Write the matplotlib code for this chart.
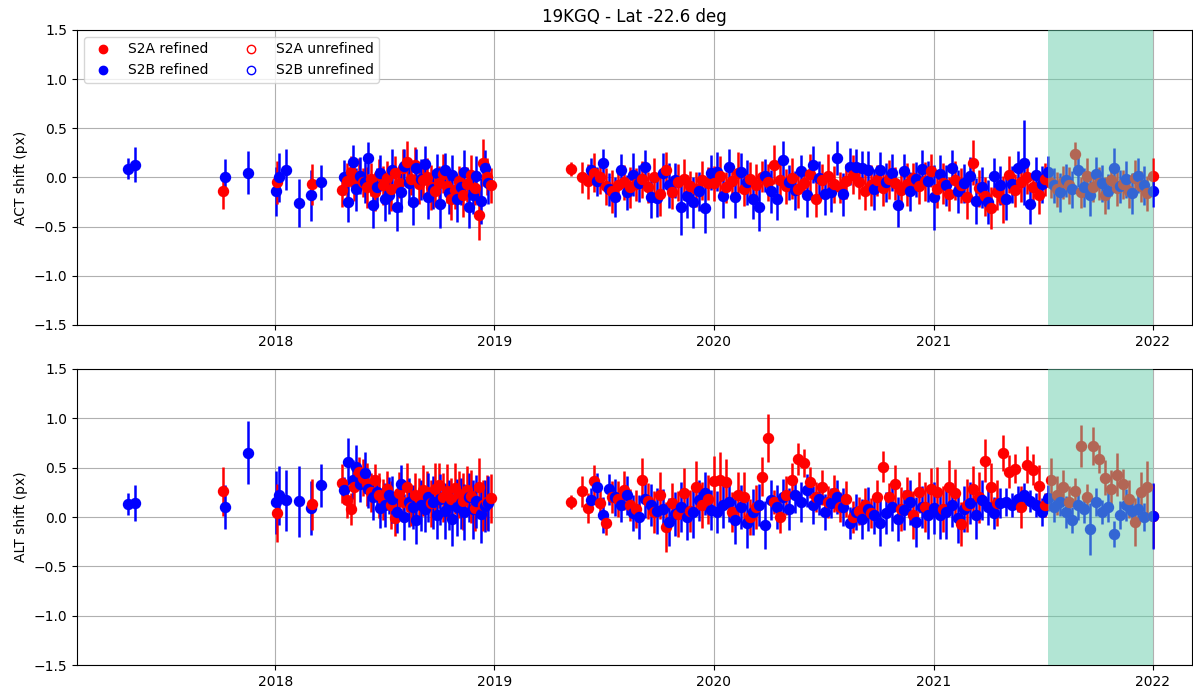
import numpy as np
import matplotlib
matplotlib.use("Agg")
import matplotlib.pyplot as plt
import matplotlib.dates as mdates
from matplotlib.lines import Line2D

# ---------------- data ----------------
s2a_dates = [
    "2017-10-06", "2018-01-04", "2018-03-03",
    "2018-04-23", "2018-04-30", "2018-05-07", "2018-05-13", "2018-05-20", "2018-05-27",
    "2018-06-02", "2018-06-09", "2018-06-16", "2018-06-22", "2018-06-29", "2018-07-06",
    "2018-07-12", "2018-07-19", "2018-07-26", "2018-08-01", "2018-08-08", "2018-08-15",
    "2018-08-21", "2018-08-28", "2018-09-04", "2018-09-10", "2018-09-17", "2018-09-24",
    "2018-09-30", "2018-10-07", "2018-10-14", "2018-10-20", "2018-10-27", "2018-11-03",
    "2018-11-09", "2018-11-16", "2018-11-23", "2018-11-29", "2018-12-06", "2018-12-13",
    "2018-12-19", "2018-12-26",
    "2019-05-08",
    "2019-05-27", "2019-06-06", "2019-06-16", "2019-06-26", "2019-07-06", "2019-07-16",
    "2019-07-26", "2019-08-05", "2019-08-15", "2019-08-25", "2019-09-04", "2019-09-14",
    "2019-09-24", "2019-10-04", "2019-10-14", "2019-10-24", "2019-11-03", "2019-11-13",
    "2019-11-23", "2019-12-03", "2019-12-13", "2019-12-23",
    "2020-01-02", "2020-01-12", "2020-01-22", "2020-02-01", "2020-02-11", "2020-02-21",
    "2020-03-02", "2020-03-12", "2020-03-22", "2020-04-01", "2020-04-11", "2020-04-21",
    "2020-05-01", "2020-05-11", "2020-05-21", "2020-05-31", "2020-06-10", "2020-06-20",
    "2020-06-30", "2020-07-10", "2020-07-20", "2020-07-30", "2020-08-09", "2020-08-19",
    "2020-08-29", "2020-09-08", "2020-09-18", "2020-09-28", "2020-10-08", "2020-10-18",
    "2020-10-28", "2020-11-07", "2020-11-17", "2020-11-27", "2020-12-07", "2020-12-17",
    "2020-12-27",
    "2021-01-06", "2021-01-16", "2021-01-26", "2021-02-05", "2021-02-15", "2021-02-25",
    "2021-03-07", "2021-03-17", "2021-03-27", "2021-04-06", "2021-04-16", "2021-04-26",
    "2021-05-06", "2021-05-16", "2021-05-26", "2021-06-05", "2021-06-15", "2021-06-25",
    "2021-07-05", "2021-07-15", "2021-07-25", "2021-08-04", "2021-08-14", "2021-08-24",
    "2021-09-03", "2021-09-13", "2021-09-23", "2021-10-03", "2021-10-13", "2021-10-23",
    "2021-11-02", "2021-11-12", "2021-11-22", "2021-12-02", "2021-12-12", "2021-12-22",
    "2022-01-01",
]
s2a_act = [
    -0.14, -0.05, -0.07,
    -0.13, -0.04, 0.06, -0.04, 0.02, -0.05, -0.10, -0.02, -0.15, 0.03,
    -0.08, -0.01, -0.12, 0.05, -0.06, 0.10, 0.16, -0.02, 0.13, -0.07,
    -0.03, 0.01, -0.10, -0.14, -0.06, 0.04, -0.09, -0.22, -0.13, -0.04,
    -0.18, -0.07, 0.03, -0.11, -0.38, 0.15, 0.01, -0.08,
    0.09,
    0.00, -0.04, 0.05, 0.00, -0.09, -0.14, -0.08, -0.05, -0.10, -0.07,
    -0.02, -0.10, 0.00, -0.17, 0.08, -0.15, -0.05, -0.02, -0.09, -0.12,
    -0.03, -0.06,
    -0.06, 0.02, -0.10, -0.04, 0.05, -0.12, -0.02, -0.08, 0.01, -0.05,
    0.13, -0.03, -0.09, -0.01, -0.12, -0.06, 0.04, -0.22, -0.03, 0.02,
    -0.07, -0.10, -0.04, 0.03, -0.05, -0.14, -0.08, -0.03, -0.11, -0.02,
    -0.06, -0.13, -0.07, -0.01, -0.09, -0.04, 0.07,
    -0.12, -0.06, -0.17, -0.03, -0.08, -0.20, 0.15, -0.11, -0.19, -0.31,
    -0.15, -0.22, 0.03, -0.13, -0.05, 0.01, -0.10, -0.18, -0.02, -0.06,
    -0.12, -0.05, -0.08, 0.24, -0.15, 0.02, -0.10, -0.06, -0.18, -0.03,
    -0.11, -0.07, -0.14, -0.01, -0.09, -0.16,
    0.02,
]
s2a_act_err = [
    0.18, 0.22, 0.21,
    0.17, 0.19, 0.16, 0.20, 0.18, 0.15, 0.21, 0.17, 0.19, 0.16,
    0.20, 0.18, 0.22, 0.17, 0.15, 0.19, 0.21, 0.16, 0.18, 0.20,
    0.17, 0.19, 0.23, 0.16, 0.18, 0.20, 0.17, 0.21, 0.19, 0.16,
    0.22, 0.18, 0.20, 0.17, 0.26, 0.24, 0.19, 0.18,
    0.07,
    0.16, 0.18, 0.20, 0.17, 0.19, 0.22, 0.16, 0.18, 0.21, 0.17,
    0.19, 0.16, 0.20, 0.22, 0.18, 0.17, 0.19, 0.21, 0.16, 0.18,
    0.20, 0.17,
    0.18, 0.20, 0.16, 0.19, 0.21, 0.17, 0.18, 0.22, 0.16, 0.19,
    0.20, 0.17, 0.18, 0.21, 0.19, 0.16, 0.20, 0.18, 0.17, 0.22,
    0.19, 0.16, 0.18, 0.20, 0.17, 0.19, 0.21, 0.16, 0.18, 0.20,
    0.17, 0.19, 0.22, 0.16, 0.18, 0.20, 0.17,
    0.19, 0.21, 0.17, 0.20, 0.18, 0.22, 0.23, 0.19, 0.20, 0.21,
    0.18, 0.24, 0.19, 0.17, 0.20, 0.18, 0.16, 0.19, 0.17, 0.15,
    0.18, 0.17, 0.19, 0.12, 0.16, 0.18, 0.15, 0.17, 0.19, 0.16,
    0.18, 0.15, 0.17, 0.19, 0.16, 0.18,
    0.18,
]
s2a_alt = [
    0.26, 0.04, 0.13,
    0.34, 0.17, 0.08, 0.30, 0.46, 0.40, 0.33, 0.25, 0.37, 0.22,
    0.18, 0.28, 0.12, -0.01, 0.24, 0.15, 0.30, 0.10, 0.22, 0.19,
    0.27, 0.25, 0.14, 0.28, 0.32, 0.20, 0.26, 0.18, 0.29, 0.23,
    0.16, 0.27, 0.21, 0.09, 0.30, 0.12, 0.15, 0.19,
    0.15,
    0.26, 0.09, 0.36, 0.14, -0.06, 0.20, 0.18, 0.27, 0.12, 0.08,
    0.38, 0.16, 0.05, 0.22, -0.10, 0.14, 0.03, 0.24, 0.06, 0.30,
    0.12, 0.18,
    0.36, 0.38, 0.35, 0.05, 0.22, 0.20, 0.00, 0.10, 0.41, 0.80,
    0.15, 0.00, 0.22, 0.37, 0.59, 0.55, 0.35, 0.20, 0.30, 0.15,
    0.24, 0.10, 0.18, 0.00, 0.06, 0.12, 0.04, 0.20, 0.51, 0.20,
    0.33, 0.08, 0.22, 0.02, 0.25, 0.10, 0.28,
    0.25, 0.08, 0.30, 0.24, -0.07, 0.12, 0.28, 0.20, 0.57, 0.30,
    0.14, 0.65, 0.46, 0.49, 0.10, 0.53, 0.48, 0.31, 0.12, 0.38,
    0.22, 0.30, 0.15, 0.26, 0.72, 0.20, 0.72, 0.59, 0.40, 0.28,
    0.43, 0.33, 0.18, -0.05, 0.25, 0.30,
    0.01,
]
s2a_alt_err = [
    0.25, 0.29, 0.26,
    0.20, 0.18, 0.16, 0.21, 0.15, 0.19, 0.22, 0.20, 0.17, 0.23,
    0.21, 0.19, 0.24, 0.18, 0.22, 0.20, 0.25, 0.19, 0.23, 0.21,
    0.26, 0.22, 0.24, 0.27, 0.23, 0.25, 0.28, 0.22, 0.26, 0.24,
    0.29, 0.25, 0.27, 0.23, 0.30, 0.26, 0.28, 0.25,
    0.07,
    0.16, 0.15, 0.17, 0.14, 0.12, 0.16, 0.18, 0.20, 0.16, 0.19,
    0.22, 0.18, 0.21, 0.24, 0.25, 0.20, 0.23, 0.26, 0.21, 0.27,
    0.23, 0.25,
    0.26, 0.28, 0.24, 0.20, 0.24, 0.26, 0.18, 0.22, 0.20, 0.24,
    0.12, 0.16, 0.20, 0.18, 0.16, 0.14, 0.16, 0.15, 0.18, 0.16,
    0.19, 0.15, 0.18, 0.16, 0.14, 0.17, 0.15, 0.18, 0.16, 0.14,
    0.20, 0.22, 0.19, 0.24, 0.21, 0.25, 0.22,
    0.26, 0.23, 0.28, 0.25, 0.22, 0.27, 0.24, 0.26, 0.22, 0.25,
    0.23, 0.18, 0.17, 0.15, 0.21, 0.19, 0.16, 0.22, 0.12, 0.22,
    0.20, 0.18, 0.16, 0.14, 0.21, 0.13, 0.19, 0.14, 0.18, 0.20,
    0.22, 0.16, 0.19, 0.24, 0.21, 0.27,
    0.32,
]

s2b_dates = [
    "2017-05-01", "2017-05-13", "2017-10-10", "2017-11-17", "2018-01-02",
    "2018-01-07", "2018-01-19", "2018-02-09", "2018-03-01", "2018-03-18",
    "2018-04-26", "2018-05-03", "2018-05-10", "2018-05-16", "2018-05-23", "2018-05-30",
    "2018-06-05", "2018-06-12", "2018-06-19", "2018-06-25", "2018-07-02", "2018-07-09",
    "2018-07-15", "2018-07-22", "2018-07-29", "2018-08-04", "2018-08-11", "2018-08-18",
    "2018-08-24", "2018-08-31", "2018-09-07", "2018-09-13", "2018-09-20", "2018-09-27",
    "2018-10-03", "2018-10-10", "2018-10-17", "2018-10-23", "2018-10-30", "2018-11-06",
    "2018-11-12", "2018-11-19", "2018-11-26", "2018-12-02", "2018-12-09", "2018-12-16",
    "2018-12-22",
    "2019-06-11", "2019-06-21", "2019-07-01", "2019-07-11", "2019-07-21", "2019-07-31",
    "2019-08-10", "2019-08-20", "2019-08-30", "2019-09-09", "2019-09-19", "2019-09-29",
    "2019-10-09", "2019-10-19", "2019-10-29", "2019-11-08", "2019-11-18", "2019-11-28",
    "2019-12-08", "2019-12-18", "2019-12-28",
    "2020-01-07", "2020-01-17", "2020-01-27", "2020-02-06", "2020-02-16", "2020-02-26",
    "2020-03-07", "2020-03-17", "2020-03-27", "2020-04-06", "2020-04-16", "2020-04-26",
    "2020-05-06", "2020-05-16", "2020-05-26", "2020-06-05", "2020-06-15", "2020-06-25",
    "2020-07-05", "2020-07-15", "2020-07-25", "2020-08-04", "2020-08-14", "2020-08-24",
    "2020-09-03", "2020-09-13", "2020-09-23", "2020-10-03", "2020-10-13", "2020-10-23",
    "2020-11-02", "2020-11-12", "2020-11-22", "2020-12-02", "2020-12-12", "2020-12-22",
    "2021-01-01", "2021-01-11", "2021-01-21", "2021-01-31", "2021-02-10", "2021-02-20",
    "2021-03-02", "2021-03-12", "2021-03-22", "2021-04-01", "2021-04-11", "2021-04-21",
    "2021-05-01", "2021-05-11", "2021-05-21", "2021-05-31", "2021-06-10", "2021-06-20",
    "2021-06-30", "2021-07-10", "2021-07-20", "2021-07-30", "2021-08-09", "2021-08-19",
    "2021-08-29", "2021-09-08", "2021-09-18", "2021-09-28", "2021-10-08", "2021-10-18",
    "2021-10-28", "2021-11-07", "2021-11-17", "2021-11-27", "2021-12-07", "2021-12-17",
    "2022-01-01",
]
s2b_act = [
    0.09, 0.13, 0.01, 0.05, -0.14, 0.00, 0.08, -0.26, -0.18, -0.05,
    0.00, -0.25, 0.16, -0.12, 0.02, -0.05, 0.20, -0.28, -0.10, 0.05,
    -0.22, -0.18, 0.08, -0.30, -0.15, 0.12, -0.06, -0.25, 0.10, -0.02,
    0.14, -0.20, -0.12, 0.05, -0.27, 0.08, -0.16, 0.03, -0.22, -0.10,
    0.06, -0.30, -0.18, 0.02, -0.24, 0.10, -0.06,
    0.08, -0.04, 0.15, -0.12, -0.20, 0.08, -0.15, 0.03, -0.06, 0.11,
    -0.20, -0.21, 0.05, -0.08, -0.03, -0.30, -0.19, -0.25, -0.14, -0.31,
    0.05,
    0.06, -0.19, 0.11, -0.20, 0.06, -0.05, -0.22, -0.30, 0.02, -0.14,
    -0.22, 0.18, -0.05, -0.13, 0.07, -0.18, 0.13, -0.01, -0.17, -0.15,
    0.20, -0.17, 0.11, 0.11, 0.10, 0.08, -0.12, 0.08, -0.05, 0.05,
    -0.28, 0.07, -0.14, -0.02, 0.09, -0.04,
    -0.20, 0.04, -0.08, 0.10, -0.14, -0.06, 0.02, -0.24, -0.10, -0.25,
    0.02, -0.08, -0.22, -0.07, 0.10, 0.15, -0.27, 0.03, -0.07, 0.06,
    -0.08, -0.15, -0.03, -0.12, 0.08, -0.10, -0.18, 0.04, -0.06, -0.14,
    0.10, -0.09, -0.02, -0.16, 0.02, -0.08,
    -0.14,
]
s2b_act_err = [
    0.11, 0.18, 0.18, 0.22, 0.25, 0.25, 0.21, 0.24, 0.26, 0.18,
    0.18, 0.20, 0.17, 0.22, 0.19, 0.21, 0.16, 0.23, 0.20, 0.18,
    0.22, 0.19, 0.21, 0.24, 0.20, 0.17, 0.22, 0.23, 0.19, 0.21,
    0.18, 0.22, 0.20, 0.19, 0.24, 0.17, 0.21, 0.20, 0.23, 0.18,
    0.22, 0.21, 0.19, 0.20, 0.23, 0.18, 0.21,
    0.12, 0.15, 0.14, 0.17, 0.20, 0.16, 0.18, 0.22, 0.19, 0.17,
    0.21, 0.19, 0.20, 0.23, 0.18, 0.29, 0.22, 0.26, 0.20, 0.25,
    0.18,
    0.20, 0.22, 0.18, 0.21, 0.19, 0.23, 0.20, 0.24, 0.17, 0.22,
    0.21, 0.19, 0.18, 0.20, 0.16, 0.22, 0.19, 0.18, 0.21, 0.20,
    0.17, 0.22, 0.19, 0.18, 0.17, 0.19, 0.21, 0.18, 0.20, 0.19,
    0.22, 0.17, 0.20, 0.18, 0.19, 0.21,
    0.33, 0.19, 0.21, 0.18, 0.22, 0.20, 0.19, 0.23, 0.21, 0.22,
    0.18, 0.20, 0.21, 0.19, 0.17, 0.43, 0.20, 0.18, 0.19, 0.16,
    0.18, 0.20, 0.17, 0.19, 0.18, 0.20, 0.21, 0.17, 0.19, 0.18,
    0.20, 0.17, 0.19, 0.21, 0.18, 0.20,
    0.16,
]
s2b_alt = [
    0.13, 0.14, 0.10, 0.65, 0.15, 0.22, 0.17, 0.16, 0.09, 0.32,
    0.27, 0.56, 0.38, 0.51, 0.33, 0.45, 0.28, 0.20, 0.25, 0.09,
    0.12, 0.22, 0.18, 0.05, 0.33, 0.00, 0.15, 0.10, -0.03, 0.12,
    0.08, 0.20, 0.15, 0.02, 0.18, 0.06, 0.12, -0.02, 0.10, 0.14,
    0.05, 0.20, 0.08, 0.16, 0.03, 0.11, 0.14,
    0.17, 0.30, 0.02, 0.28, 0.20, 0.12, 0.22, 0.04, 0.00, 0.18,
    0.12, 0.06, 0.08, -0.05, 0.03, 0.10, 0.00, 0.05, 0.17, 0.24,
    0.07,
    0.05, 0.12, 0.15, -0.03, 0.10, -0.06, 0.05, 0.12, -0.08, 0.17,
    0.10, 0.20, 0.08, 0.22, 0.15, 0.27, 0.12, 0.18, 0.05, 0.14,
    0.20, 0.10, -0.06, 0.05, -0.02, 0.08, 0.02, -0.06, 0.04, 0.10,
    -0.02, 0.07, 0.15, -0.05, 0.10, 0.02,
    0.09, 0.02, 0.05, 0.12, -0.01, 0.08, 0.14, 0.02, 0.17, 0.10,
    0.04, 0.14, 0.15, 0.12, 0.18, 0.22, 0.16, 0.12, 0.05, 0.19,
    0.10, 0.15, 0.05, -0.03, 0.12, 0.08, -0.12, 0.15, 0.05, 0.10,
    -0.17, 0.02, 0.12, 0.06, 0.08, 0.00,
    0.01,
]
s2b_alt_err = [
    0.11, 0.18, 0.22, 0.32, 0.32, 0.30, 0.31, 0.36, 0.27, 0.22,
    0.14, 0.24, 0.20, 0.22, 0.18, 0.21, 0.19, 0.23, 0.17, 0.20,
    0.22, 0.19, 0.24, 0.21, 0.20, 0.23, 0.25, 0.22, 0.24, 0.26,
    0.23, 0.25, 0.27, 0.24, 0.26, 0.28, 0.25, 0.27, 0.29, 0.26,
    0.28, 0.25, 0.30, 0.27, 0.29, 0.26, 0.28,
    0.12, 0.15, 0.18, 0.16, 0.19, 0.17, 0.20, 0.18, 0.22, 0.19,
    0.21, 0.23, 0.20, 0.24, 0.22, 0.25, 0.23, 0.26, 0.21, 0.22,
    0.20,
    0.21, 0.23, 0.20, 0.24, 0.22, 0.25, 0.23, 0.21, 0.24, 0.20,
    0.22, 0.19, 0.21, 0.18, 0.20, 0.17, 0.19, 0.16, 0.18, 0.15,
    0.17, 0.19, 0.16, 0.18, 0.20, 0.22, 0.19, 0.23, 0.21, 0.24,
    0.22, 0.20, 0.23, 0.25, 0.21, 0.24,
    0.26, 0.24, 0.27, 0.22, 0.25, 0.23, 0.21, 0.24, 0.20, 0.18,
    0.16, 0.15, 0.14, 0.12, 0.13, 0.12, 0.11, 0.12, 0.14, 0.13,
    0.15, 0.14, 0.16, 0.13, 0.15, 0.14, 0.26, 0.14, 0.12, 0.15,
    0.13, 0.14, 0.16, 0.12, 0.15, 0.14,
    0.33,
]

title = "19KGQ - Lat -22.6 deg"
span_start, span_end = "2021-07-10", "2022-01-01"
x_min, x_max = "2017-02-05", "2022-03-07"
yticks = [-1.5, -1.0, -0.5, 0.0, 0.5, 1.0, 1.5]

# ---------------- checks ----------------
for name, arr, ref in [("s2a_act", s2a_act, s2a_dates), ("s2a_act_err", s2a_act_err, s2a_dates),
                       ("s2a_alt", s2a_alt, s2a_dates), ("s2a_alt_err", s2a_alt_err, s2a_dates),
                       ("s2b_act", s2b_act, s2b_dates), ("s2b_act_err", s2b_act_err, s2b_dates),
                       ("s2b_alt", s2b_alt, s2b_dates), ("s2b_alt_err", s2b_alt_err, s2b_dates)]:
    if len(arr) != len(ref):
        raise ValueError(f"{name}: {len(arr)} vs {len(ref)}")

# ---------------- plot ----------------
da = np.array(s2a_dates, dtype="datetime64[D]")
db = np.array(s2b_dates, dtype="datetime64[D]")

fig = plt.figure(figsize=(11.93, 6.91), dpi=100)
ax1 = fig.add_axes([0.0645, 0.5297, 0.9346, 0.4269])
ax2 = fig.add_axes([0.0645, 0.0376, 0.9346, 0.4284])


def draw(ax, series):
    pts = []
    for dates, vals, errs, col in series:
        for d, v, e in zip(dates, vals, errs):
            pts.append((d, v, e, col))
    pts.sort(key=lambda p: p[0])
    for d, v, e, col in pts:
        ax.errorbar([d], [v], yerr=[e], fmt="o", color=col, ms=7.2,
                    elinewidth=1.8, capsize=0, zorder=2)


draw(ax1, [(da, s2a_act, s2a_act_err, "red"), (db, s2b_act, s2b_act_err, "blue")])
draw(ax2, [(da, s2a_alt, s2a_alt_err, "red"), (db, s2b_alt, s2b_alt_err, "blue")])

for ax in (ax1, ax2):
    ax.axvspan(np.datetime64(span_start), np.datetime64(span_end),
               color="mediumaquamarine", alpha=0.5, zorder=3, lw=0)
    ax.set_ylim(-1.5, 1.5)
    ax.set_yticks(yticks)
    ax.set_xlim(np.datetime64(x_min), np.datetime64(x_max))
    ax.xaxis.set_major_locator(mdates.YearLocator())
    ax.xaxis.set_major_formatter(mdates.DateFormatter("%Y"))
    ax.grid(True)

ax1.set_title(title, fontsize=12)
ax1.set_ylabel("ACT shift (px)")
ax2.set_ylabel("ALT shift (px)")

handles = [
    Line2D([], [], ls="none", marker="o", color="red", label="S2A refined"),
    Line2D([], [], ls="none", marker="o", color="blue", label="S2B refined"),
    Line2D([], [], ls="none", marker="o", color="red", mfc="none", label="S2A unrefined"),
    Line2D([], [], ls="none", marker="o", color="blue", mfc="none", label="S2B unrefined"),
]
ax1.legend(handles=handles, loc="upper left", ncol=2)

fig.savefig("out.png", dpi=100)
